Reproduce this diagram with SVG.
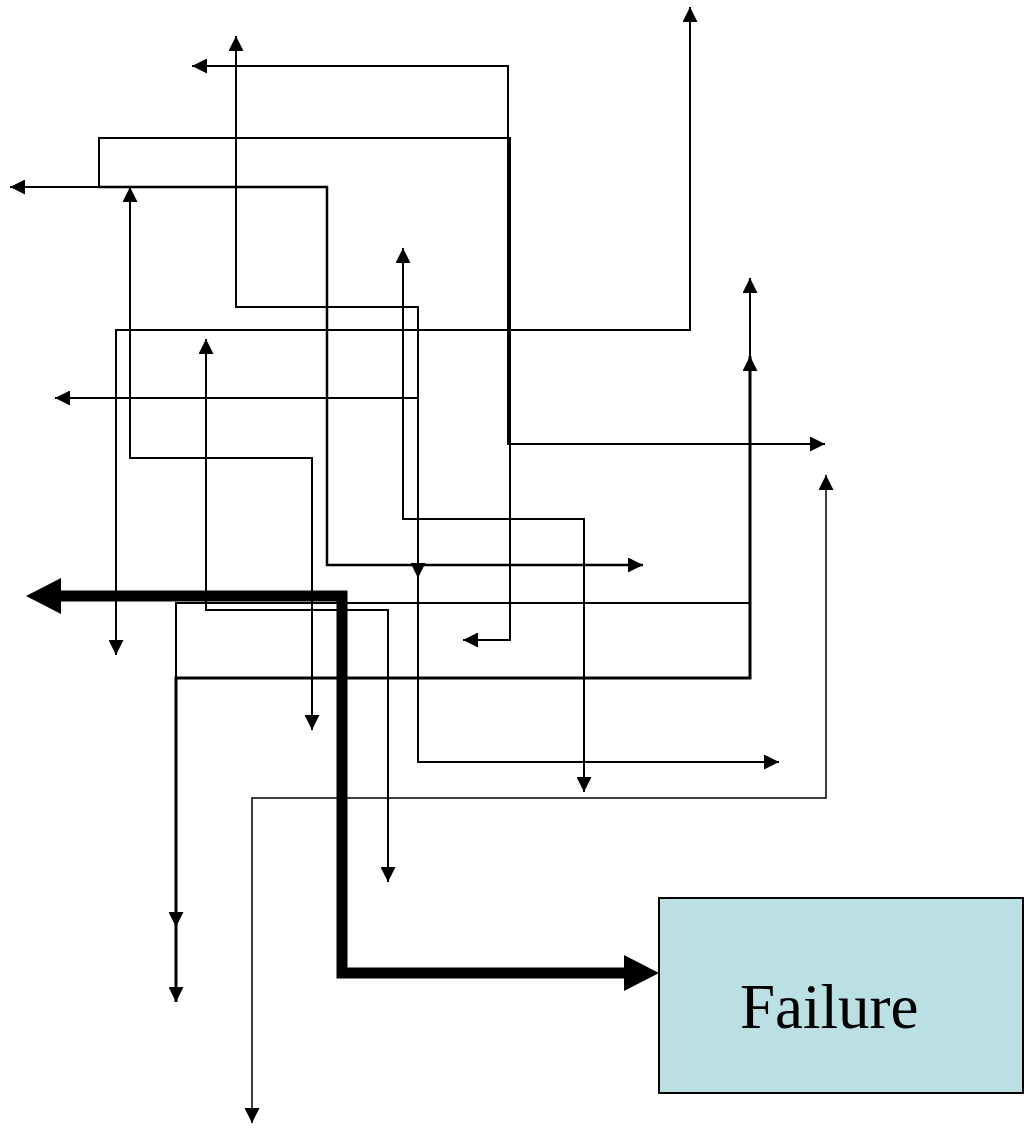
<svg xmlns="http://www.w3.org/2000/svg" width="1027" height="1129" viewBox="0 0 1027 1129">
<style>
.c{fill:none;stroke:#000;stroke-width:2;stroke-linejoin:miter;marker-start:url(#a);marker-end:url(#a)}
.e{marker-start:none}
.bold{fill:none;stroke:#000;stroke-width:11;stroke-linejoin:miter;marker-start:url(#b);marker-end:url(#b)}
.lbl{font-family:"Liberation Serif","Times New Roman",serif;font-size:63px;fill:#000}
</style>
<defs>
<marker id="a" markerUnits="userSpaceOnUse" markerWidth="15" markerHeight="15" viewBox="0 0 15 15" refX="15" refY="7.5" orient="auto-start-reverse">
<path d="M0,0 L15,7.5 L0,15 z" fill="#000"/>
</marker>
<marker id="b" markerUnits="userSpaceOnUse" markerWidth="35" markerHeight="36" viewBox="0 0 35 36" refX="0" refY="18" orient="auto-start-reverse">
<path d="M0,0 L35,18 L0,36 z" fill="#000"/>
</marker>
</defs>
<rect width="1027" height="1129" fill="#fff"/>
<g id="connectors">
<path class="c" d="M690,7 L690,330 L116,330 L116,655"/>
<path class="c" d="M236,36 L236,307 L418,307 L418,762 L779,762"/>
<path class="c" d="M55,398 L418,398 L418,578"/>
<path class="c" d="M192,66 L508,66 L508,444 L825,444"/>
<path class="c" d="M10,187 L99,187 L99,138 L510,138 L510,640 L463,640"/>
<path class="c e" style="stroke-width:2.5" d="M99,187 L327,187 L327,565 L643,565"/>
<path class="c" d="M130,187 L130,458 L312,458 L312,730"/>
<path class="c" d="M403,248 L403,519 L584,519 L584,792"/>
<path class="c" d="M206,339 L206,610 L388,610 L388,882"/>
<path class="c" d="M750,278 L750,603 L176,603 L176,927"/>
<path class="c" style="stroke-width:3" d="M750,356 L750,678 L176,678 L176,1002"/>
<path class="c" style="stroke-width:1.5" d="M826,475 L826,798 L252,798 L252,1123"/>
<path class="bold" d="M61,596 L342,596 L342,973 L624,973"/>
</g>
<g id="failure">
<rect x="659" y="898" width="364" height="195" fill="#BBE0E3" stroke="#000" stroke-width="2"/>
<text class="lbl" x="740" y="1028">Failure</text>
</g>
</svg>
